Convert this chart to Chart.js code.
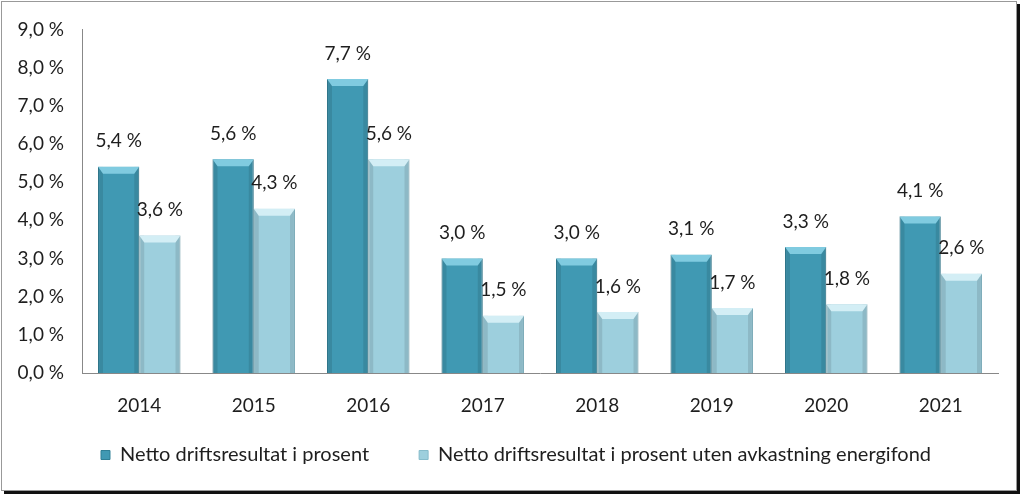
<!DOCTYPE html>
<html>
<head>
<meta charset="UTF-8">
<title>Netto driftsresultat</title>
<script src="https://cdn.jsdelivr.net/npm/chart.js@4/dist/chart.umd.min.js"></script>
<style>
  body { margin: 0; background: #fff; }
  .frame { position: absolute; left: 1px; top: 1px; width: 1014px; height: 488px;
           border: 1px solid #999; box-shadow: 3px 3px 0 #111; background: #fff; }
  #myChart { position: absolute; left: 0; top: 0; }
</style>
</head>
<body>
<div class="frame"></div>
<canvas id="myChart" width="1024" height="498"></canvas>

<script>
	// data
	const years = ['2014', '2015', '2016', '2017', '2018', '2019', '2020', '2021'];
	const netto = [5.4, 5.6, 7.7, 3.0, 3.0, 3.1, 3.3, 4.1];
	const nettoUtenFond = [3.6, 4.3, 5.6, 1.5, 1.6, 1.7, 1.8, 2.6];
	const seriesNames = ['Netto driftsresultat i prosent', 'Netto driftsresultat i prosent uten avkastning energifond'];

	const fmt = v => v.toFixed(1).replace('.', ',') + ' %';
	const FONT = 'Lato';

	// light top cap + darker sides, a bit like the bevel in the original
	const bevel = {
		id: 'bevel',
		afterLayout(chart) {
			// legend sits a little right of centre in the original
			if (chart.legend) { chart.legend.left += 17; chart.legend.right += 17; }
		},
		afterDatasetsDraw(chart) {
			const ctx = chart.ctx;
			const caps = ['#80cbe0', '#d3eef5'];
			chart.data.datasets.forEach((ds, di) => {
				chart.getDatasetMeta(di).data.forEach(bar => {
					const l = bar.x - bar.width / 2, r = bar.x + bar.width / 2;
					const t = bar.y, b = bar.base, e = 5;
					ctx.save();
					ctx.fillStyle = 'rgba(0,0,0,0.10)';
					ctx.fillRect(l, t, e, b - t);
					ctx.fillRect(r - e, t, e, b - t);
					ctx.fillStyle = caps[di];
					ctx.beginPath();
					ctx.moveTo(l, t); ctx.lineTo(r, t);
					ctx.lineTo(r - e, t + e + 2); ctx.lineTo(l + e, t + e + 2);
					ctx.closePath(); ctx.fill();
					ctx.restore();
				});
			});
			// value labels
			ctx.save();
			ctx.font = '19px ' + FONT;
			ctx.fillStyle = '#1e1e1e';
			ctx.textAlign = 'center';
			ctx.textBaseline = 'bottom';
			chart.data.datasets.forEach((ds, di) => {
				chart.getDatasetMeta(di).data.forEach((bar, i) => {
					ctx.fillText(fmt(ds.data[i]), bar.x, bar.y - 16);
				});
			});
			ctx.restore();
		}
	};

	new Chart('myChart', {
		type: 'bar',
		data: {
			labels: years,
			datasets: [{
				label: seriesNames[0],
				data: netto,
				backgroundColor: '#4099b3',
				borderColor: '#2f7f96',
				borderWidth: 1,
				categoryPercentage: 0.72,
				barPercentage: 1.0
			}, {
				label: seriesNames[1],
				data: nettoUtenFond,
				backgroundColor: '#9dcfdd',
				borderColor: '#86bccb',
				borderWidth: 1,
				categoryPercentage: 0.72,
				barPercentage: 1.0
			}]
		},
		options: {
			responsive: false,
			animation: false,
			layout: { padding: { top: 20, right: 26, bottom: 23, left: 0 } },
			scales: {
				y: {
					min: 0, max: 9,
					ticks: { stepSize: 1, callback: v => fmt(v), color: '#1e1e1e', font: { family: FONT, size: 19 }, padding: 18 },
					grid: { display: false, drawTicks: false },
					border: { display: true, color: '#888', width: 1 },
					afterFit: s => { s.width = 82; }
				},
				x: {
					ticks: { color: '#1e1e1e', font: { family: FONT, size: 19 }, padding: 21 },
					grid: { display: false, drawTicks: false },
					border: { display: true, color: '#888', width: 1 },
					// the labels hang below this short box, so don't clip them to it
					afterFit: s => { s.height = 22; s._computeLabelArea = () => undefined; }
				}
			},
			plugins: {
				legend: {
					position: 'bottom',
					labels: { boxWidth: 9, boxHeight: 9, padding: 50, color: '#1e1e1e', font: { family: FONT, size: 20 } }
				},
				tooltip: { enabled: false }
			}
		},
		plugins: [bevel]
	});
</script>
</body>
</html>
